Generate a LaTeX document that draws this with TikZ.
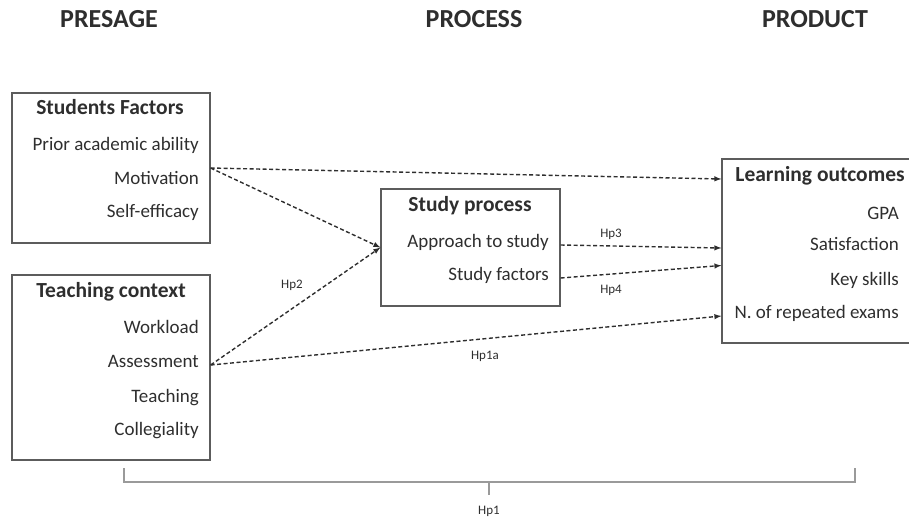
\documentclass[tikz,border=0pt]{standalone}
\usepackage{fontspec}
\setmainfont{Carlito}
\usetikzlibrary{calc,positioning}
\definecolor{ink}{HTML}{2E2E2E}
\definecolor{frame}{HTML}{5C5C5C}
\definecolor{bracegray}{HTML}{9A9A9A}

\begin{document}
\begin{tikzpicture}
	[x=1pt,y=-1pt,
	every node/.style={text=ink,inner sep=0pt,text height=0.7em,text depth=0.2em},
	box/.style={draw=frame,line width=1.2pt},
	head/.style={font=\bfseries\fontsize{26}{30}\selectfont},
	title/.style={font=\bfseries\fontsize{21.5}{25}\selectfont},
	item/.style={anchor=east,font=\fontsize{19}{22}\selectfont},
	hp/.style={font=\fontsize{13}{15}\selectfont},
	link/.style={-latex,dash pattern=on 4pt off 2.5pt,line width=1.4pt,draw=ink},
	bracket/.style={draw=bracegray,line width=1.2pt}]
	\useasboundingbox (0,0) rectangle (909,520);
	\clip (0,0) rectangle (909,520);

	% headings
	\node[head] (presage) at (109,25) {PRESAGE};
	\node[head] (process) at (474,25) {PROCESS};
	\node[head] (product) at (815,25) {PRODUCT};

	% boxes
	\node[box,minimum width=198pt,minimum height=150pt] (students) at (111,168) {};
	\node[box,minimum width=198pt,minimum height=185pt] (teaching) at (111,367.5) {};
	\node[box,minimum width=179pt,minimum height=117pt] (study) at (470.5,247.5) {};
	\node[box,minimum width=200pt,minimum height=184pt] (outcomes) at (822,251) {};

	% presage
	\node[title] (sftitle) at (110,112) {Students Factors};
	\foreach \nm/\txt/\y in {prior/Prior academic ability/148,motiv/Motivation/182,selfeff/Self-efficacy/215}
		\node[item] (\nm) at (199,\y) {\txt};
	\node[title] (tctitle) at (111,295) {Teaching context};
	\foreach \nm/\txt/\y in {workload/Workload/331,assess/Assessment/365,teach/Teaching/400,colleg/Collegiality/433}
		\node[item] (\nm) at (199,\y) {\txt};

	% process
	\node[title] (sptitle) at (470,209) {Study process};
	\foreach \nm/\txt/\y in {approach/Approach to study/245,factors/Study factors/278}
		\node[item] (\nm) at (549,\y) {\txt};

	% product
	\node[title] (lotitle) at (820,179) {Learning outcomes};
	\foreach \nm/\txt/\y in {gpa/GPA/217,satisf/Satisfaction/248,keysk/Key skills/283,repeated/N. of repeated exams/316}
		\node[item] (\nm) at (899,\y) {\txt};

	% link ends
	\coordinate (sfout) at (students.east);
	\coordinate (tcout) at (teaching.east |- assess);
	\coordinate (apout) at (study.east |- approach);
	\coordinate (faout) at (study.east |- factors);
	\coordinate (loin) at (outcomes.west |- lotitle);
	\coordinate (satin) at (outcomes.west |- satisf);
	\coordinate (midin) at ($(outcomes.west |- satisf)!0.5!(outcomes.west |- keysk)$);
	\coordinate (repin) at (outcomes.west |- repeated);

	\path
	\foreach \startNode/\endNode in {sfout/loin,sfout/study.west,tcout/study.west,tcout/repin,apout/satin,faout/midin}{
		(\startNode) edge[link] (\endNode)
	};

	\node[hp] (hp2) at (292,286) {Hp2};
	\node[hp] (hp3) at (611,235) {Hp3};
	\node[hp] (hp4) at (611,291) {Hp4};
	\node[hp] (hp1a) at (485,357) {Hp1a};

	% bracket
	\coordinate (brl) at (124,468);
	\coordinate (brr) at (855,468);
	\coordinate (brm) at (489,482);
	\node[hp] (hp1) at (489,512) {Hp1};
	\draw[bracket] (brl) |- (brm) -| (brr);
	\draw[bracket] (brm) -- ++(0,13);
\end{tikzpicture}
\end{document}
